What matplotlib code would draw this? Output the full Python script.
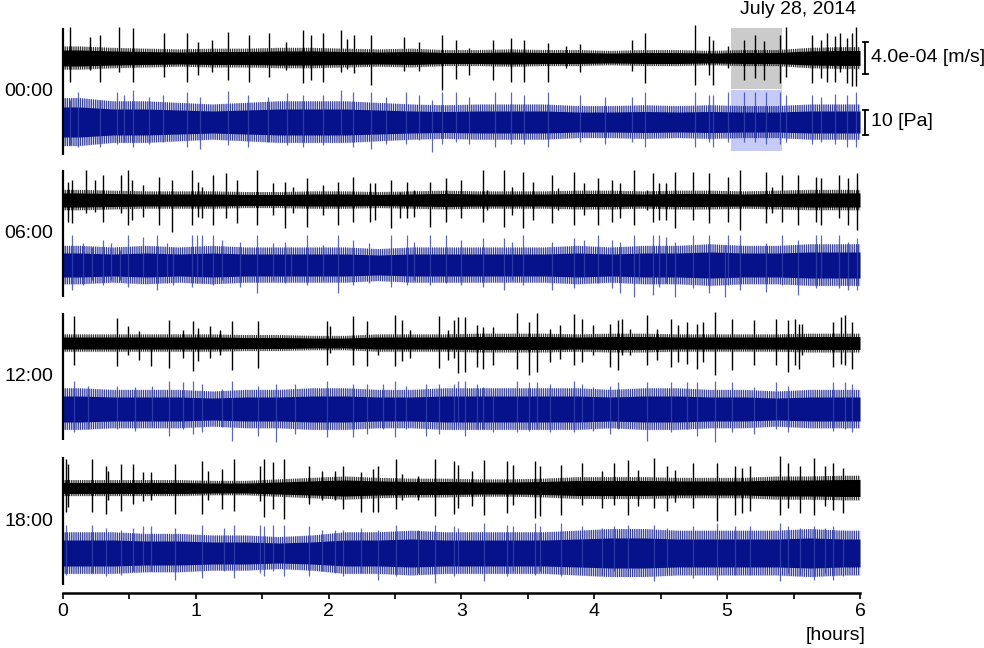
import numpy as np
import matplotlib
matplotlib.use("Agg")
import matplotlib.pyplot as plt
from matplotlib.patches import Rectangle

plt.rcParams['font.family'] = ['Liberation Sans', 'DejaVu Sans']
plt.rcParams['hatch.linewidth'] = 0.55

# ---------------- data ----------------
block_labels = ["00:00", "06:00", "12:00", "18:00"]
date_label = "July 28, 2014"
xticks = [0, 1, 2, 3, 4, 5, 6]
seis_scale = 4.0        # x1e-4 m/s
seis_label = "4.0e-04 [m/s]"
infra_scale = 10.0      # Pa
infra_label = "10 [Pa]"
highlight = (5.03, 5.41)   # hours, block 1

# background level (half width) every 15 min; seismic in 1e-4 m/s, infrasound in Pa
seis_env = [
    [1.0,0.88,0.81,0.75,0.81,0.81,0.88,0.88,0.81,0.75,0.81,0.69,0.69,0.75,0.69,0.69,0.62,0.69,0.69,0.62,0.69,0.69,0.88,0.94],
    [0.88,0.81,0.75,0.75,0.75,0.69,0.69,0.75,0.75,0.69,0.75,0.81,0.75,0.75,0.75,0.81,0.81,0.75,0.81,0.81,0.75,0.81,0.88,0.88],
    [0.75,0.75,0.75,0.75,0.75,0.69,0.69,0.62,0.62,0.75,0.75,0.75,0.81,0.81,0.81,0.75,0.81,0.81,0.75,0.75,0.75,0.75,0.81,0.81],
    [0.69,0.69,0.69,0.69,0.62,0.62,0.75,0.88,1.0,0.88,0.81,0.81,0.75,0.75,0.81,0.94,0.94,0.94,0.88,0.88,0.88,1.0,1.0,1.06],
]
infra_env = [
    [6.0,5.2,5.2,4.8,4.4,4.8,5.2,5.2,5.2,4.8,4.4,4.2,4.4,4.4,4.4,4.0,4.0,4.2,4.0,4.2,4.0,4.0,4.4,4.4],
    [4.8,4.4,4.8,4.4,4.8,4.4,4.4,4.4,4.4,4.0,4.4,4.4,4.4,4.4,4.4,4.8,4.4,4.8,4.8,5.2,4.8,4.8,5.2,5.2],
    [5.2,4.8,4.8,4.8,4.4,4.8,4.8,5.2,5.2,4.8,4.8,5.2,5.2,5.2,5.2,5.2,4.8,5.2,5.2,4.8,4.8,4.4,4.8,4.8],
    [5.2,5.2,4.8,4.8,4.4,4.4,4.0,4.4,5.2,5.2,5.6,5.2,5.2,5.2,5.2,5.6,6.0,6.0,5.6,5.6,5.6,5.6,6.0,5.6],
]

# transient events: time (hours), peak up, peak down
seis_t = [
    [0.05,0.20,0.28,0.42,0.53,0.76,0.93,1.02,1.12,1.24,1.40,1.55,1.68,1.81,1.87,1.96,2.09,2.14,2.19,2.32,2.57,2.68,2.85,2.96,3.06,3.24,3.37,3.47,3.65,3.79,3.89,4.28,4.38,4.76,4.86,4.89,5.01,5.13,5.21,5.28,5.40,5.44,5.64,5.71,5.75,5.81,5.85,5.90,5.94,5.97],
    [0.04,0.07,0.17,0.24,0.30,0.44,0.49,0.52,0.60,0.72,0.82,0.97,1.02,1.05,1.13,1.23,1.31,1.46,1.58,1.67,1.73,1.84,1.96,2.07,2.18,2.31,2.35,2.47,2.54,2.59,2.64,2.76,2.88,3.00,3.16,3.19,3.32,3.38,3.46,3.54,3.68,3.73,3.85,3.92,4.03,4.13,4.19,4.30,4.40,4.44,4.49,4.54,4.61,4.74,4.86,5.01,5.10,5.29,5.34,5.41,5.53,5.67,5.71,5.84,5.91,5.98],
    [0.08,0.41,0.49,0.57,0.66,0.80,0.90,0.98,1.02,1.11,1.18,1.27,1.47,1.99,2.01,2.18,2.29,2.37,2.50,2.55,2.61,2.83,2.90,2.94,2.97,3.03,3.12,3.16,3.24,3.42,3.51,3.57,3.67,3.74,3.85,3.91,3.99,4.12,4.18,4.21,4.27,4.40,4.47,4.58,4.63,4.70,4.77,4.82,4.91,5.04,5.20,5.37,5.46,5.51,5.54,5.56,5.80,5.86,5.89,5.94],
    [0.02,0.04,0.22,0.32,0.34,0.44,0.53,0.60,0.66,0.84,1.05,1.09,1.20,1.29,1.48,1.51,1.58,1.66,1.85,1.95,2.05,2.11,2.24,2.33,2.37,2.51,2.55,2.67,2.80,2.94,2.97,3.08,3.17,3.34,3.39,3.55,3.59,3.75,3.91,4.06,4.15,4.25,4.33,4.45,4.55,4.61,4.74,4.92,5.06,5.11,5.17,5.40,5.46,5.55,5.65,5.74,5.80,5.87],
]
seis_up = [
    [3.9,2.6,2.9,3.9,3.8,3.1,3.1,2.0,2.3,3.3,2.9,3.1,2.0,3.5,2.9,3.1,3.5,2.4,2.9,2.9,2.6,2.0,2.9,2.3,1.3,2.3,2.5,2.3,1.9,1.5,1.8,2.3,3.1,4.1,2.8,2.3,1.5,2.3,2.9,2.1,2.9,3.9,2.9,2.3,3.1,2.8,3.1,2.5,3.1,3.9],
    [2.3,2.5,3.8,2.5,3.1,3.1,3.8,2.5,1.9,2.9,2.5,3.8,2.3,1.6,3.1,3.4,2.5,3.8,2.1,2.3,1.6,2.8,1.9,2.3,2.9,2.1,2.1,2.5,1.0,2.3,1.3,2.3,2.8,2.5,3.8,1.3,3.8,1.6,3.5,2.3,3.1,1.5,3.5,2.1,2.8,2.5,2.1,3.8,1.3,3.4,2.1,2.1,3.5,3.5,3.4,2.9,3.8,3.5,1.6,3.1,3.1,2.9,2.8,3.1,2.8,3.4],
    [3.4,3.1,2.1,1.5,0.6,2.9,1.6,2.8,1.9,2.1,1.6,2.8,2.8,2.8,2.1,3.4,2.8,0.6,3.5,2.9,1.6,3.4,1.6,2.9,3.3,3.3,2.3,2.0,2.0,3.8,2.6,3.8,1.8,2.3,3.6,3.0,2.3,2.4,2.9,3.0,1.8,3.5,1.8,3.0,2.3,2.6,2.4,2.6,3.9,3.0,2.9,3.0,2.9,3.0,2.4,2.4,2.6,3.3,3.5,2.6],
    [3.6,3.0,3.6,2.8,2.1,3.0,3.0,2.0,2.0,3.0,3.4,2.1,2.4,3.6,2.8,3.6,3.3,3.6,2.8,2.1,2.1,2.8,2.0,2.4,2.8,3.6,1.8,1.5,3.6,3.4,2.9,2.1,3.5,3.4,2.9,3.4,2.8,2.9,3.1,2.1,3.1,3.5,2.3,3.8,2.8,2.3,3.1,3.1,2.8,2.5,2.8,4.0,3.1,2.8,3.8,2.8,3.1,2.5],
]
seis_dn = [
    [3.0,1.5,3.0,1.8,3.0,2.4,3.0,2.1,1.8,2.8,3.0,2.4,1.5,3.1,2.8,3.0,1.8,1.4,1.9,3.4,1.6,1.6,4.0,2.6,2.1,2.8,3.0,3.0,3.0,1.3,1.8,1.6,3.1,3.4,2.1,3.4,1.3,2.8,2.5,2.8,3.1,2.4,3.1,2.5,3.0,3.0,1.8,3.1,3.5,3.5],
    [2.8,2.9,1.6,1.5,2.8,1.6,3.1,2.5,2.1,3.1,4.0,3.1,2.1,2.3,3.1,2.3,2.9,3.1,1.9,3.5,1.6,3.4,1.9,3.1,2.8,2.8,2.5,3.5,2.3,2.3,2.1,3.4,2.8,2.3,2.8,1.3,3.4,1.9,3.5,2.5,2.9,1.3,3.1,1.9,3.1,2.8,2.3,3.1,1.3,2.8,2.5,2.5,3.5,2.5,2.9,2.8,3.8,2.9,1.6,2.8,3.1,2.8,3.1,2.3,3.1,3.8],
    [2.8,2.9,1.5,2.1,2.9,3.1,1.9,3.5,2.3,1.9,1.5,3.4,3.1,2.8,1.3,2.8,2.9,1.5,2.9,2.3,1.9,3.1,2.1,1.9,3.8,3.6,3.0,3.3,2.8,3.3,4.0,3.6,2.4,2.0,2.8,2.4,1.5,3.0,3.4,1.5,1.5,2.8,2.1,3.0,2.4,2.6,3.3,2.4,4.0,3.4,2.8,2.8,3.6,2.8,3.3,1.5,3.0,2.6,2.8,3.3],
    [3.0,2.4,3.0,3.3,1.5,2.9,2.0,1.6,1.5,3.3,3.3,1.5,2.6,2.9,1.6,3.6,2.6,3.9,2.0,1.5,1.5,2.6,3.0,3.0,3.0,2.6,1.5,1.5,3.5,3.3,2.5,2.3,3.4,3.1,2.1,3.8,3.5,3.4,2.1,2.5,2.1,3.4,2.3,2.5,2.9,1.8,2.5,4.1,3.4,3.1,2.9,3.4,2.5,3.1,3.4,2.3,2.8,3.1],
]
infra_t = [
    [0.05,0.11,0.28,0.41,0.46,0.53,0.65,0.75,0.93,1.03,1.24,1.39,1.54,1.69,1.81,1.96,2.09,2.18,2.32,2.43,2.58,2.68,2.78,2.85,2.96,3.06,3.25,3.37,3.47,3.65,3.89,4.08,4.28,4.38,4.76,4.86,4.89,5.01,5.13,5.21,5.29,5.40,5.44,5.64,5.71,5.81,5.90,5.97],
    [0.07,0.15,0.22,0.30,0.36,0.43,0.49,0.60,0.71,0.78,0.83,0.97,1.01,1.05,1.13,1.20,1.33,1.46,1.58,1.67,1.72,1.84,1.96,2.07,2.18,2.30,2.47,2.59,2.64,2.76,2.88,3.00,3.16,3.32,3.38,3.46,3.68,3.85,3.92,4.03,4.13,4.19,4.30,4.34,4.44,4.49,4.54,4.61,4.74,4.86,4.98,5.01,5.10,5.29,5.41,5.53,5.67,5.71,5.84,5.91,5.98],
    [0.08,0.19,0.41,0.54,0.67,0.80,0.90,0.98,1.05,1.20,1.27,1.47,1.60,1.75,1.99,2.18,2.29,2.41,2.50,2.58,2.73,2.83,2.94,2.97,3.03,3.12,3.16,3.24,3.42,3.51,3.57,3.67,3.85,3.91,3.99,4.12,4.18,4.40,4.58,4.70,4.77,4.91,5.04,5.20,5.37,5.46,5.80,5.89,5.94],
    [0.02,0.22,0.32,0.44,0.53,0.60,0.66,0.84,1.05,1.21,1.29,1.48,1.51,1.58,1.66,1.85,1.95,2.05,2.11,2.24,2.37,2.51,2.67,2.80,2.94,2.97,3.17,3.34,3.39,3.55,3.59,3.75,3.91,4.06,4.15,4.25,4.45,4.55,4.74,4.92,5.06,5.17,5.40,5.46,5.55,5.65,5.74,5.80,5.87],
]
infra_up = [
    [8.8,12,8.8,12,10.8,12.8,10,10.8,12,10,12.4,10.8,10,11.6,10.8,10.8,12.8,12,12,10,12,10.8,8.8,12,12,10,12,12,10.8,12,10.8,10,10,12,12,10.8,10.8,12,12,12,12,12,10.8,10.8,10,11.2,10.8,12],
    [12,8.8,7.2,10,8.8,6,12,11.2,12,8.8,6.8,12,12,12,12,10,9.2,12,8.8,9.2,7.2,12,8,12,10,8.8,12,12,9.2,12,12,10,10.8,10.8,9.2,12,9.2,10.8,10,12,10,9.2,12,6.8,12,12,11.2,9.2,12,12,8,12,12,8.8,12,10,12,12,12,9.2,10.8],
    [11.2,9.2,9.2,8.8,9.2,11.2,10.8,11.2,10,8,11.2,9.2,10,10,11.2,10,10,10,11.2,9.2,10,10,10,11.2,11.2,10,8.8,7.2,11.2,10.8,10.8,10,11.2,10,8.8,9.2,10.8,10.8,10.8,10.8,10.8,11.2,10.8,8.8,10.8,9.2,10.8,10.8,10],
    [11.2,11.2,10,9.2,10,10.8,10.8,10,11.2,10,11.2,11.2,10.8,11.2,11.2,10.8,9.2,9.2,9.2,10,9.2,11.2,9.2,11.2,10.8,10,12,11.2,10.8,12,10.8,12,10.8,10,10.8,11.2,11.2,10,10.8,12,10.8,10.8,12,10.8,10,10.8,10,10.8,9.2],
]
infra_dn = [
    [9.2,10,10,8.8,8,10,8.8,8,10,10.8,9.2,10,8,9.2,10,9.2,8,10,10.8,8.8,8.8,7.2,12,8.8,8,8.8,10,8.8,8.8,10,8,8.8,8,10,10,8,10,8,8,8,8.8,8.8,8,8.8,8,8.8,10,10],
    [10,8,6,8,6,6,8.8,6,10,7.2,8,8.8,7.2,7.2,8,6,8.8,11.2,6,7.2,6,8,6,11.2,8,7.2,8.8,8,6,8,7.2,8,8.8,10,6,8,10,9.2,6,7.2,9.2,11.2,12.8,6,12,8.8,7.2,12.8,9.2,11.2,12.8,8,10,10.8,8,12,9.2,8,9.2,10,10],
    [9.2,8,8,8.8,7.2,10.8,8,10,9.2,7.2,12.8,10.8,13.2,10,11.2,11.2,10,8,11.2,8,10.8,10,8,6.8,10.8,8,8,9.2,9.2,8.8,8,9.2,9.2,7.2,8.8,10,8,12.8,9.2,8,10.8,13.2,9.2,10,8,9.2,8.8,8,9.2],
    [8.8,8,9.2,8.8,7.2,6,7.2,10.8,10,7.2,10,8,9.2,7.2,9.2,9.2,7.2,8,9.2,8,10.8,9.2,8,12,9.2,7.2,11.2,9.2,7.2,8.8,7.2,9.2,7.2,8.8,7.2,9.2,11.2,8,10,10.8,8.8,8.8,11.2,8,8.8,10.8,8,10.8,9.2],
]

# ---------------- layout / style ----------------
W, H = 984, 648
BLACK = "#000000"
NAVY = "#06128a"
SPIKE_BLUE = "#3343b0"
SEIS_GAIN = 8.0     # px per 1e-4 m/s
INFRA_GAIN = 2.5    # px per Pa
seis_off = [535, 393, 250, 105]
infra_off = [471, 328, 184, 40]
block_span = [(438, 565), (296, 423), (153, 280), (8, 136)]

fig = plt.figure(figsize=(W / 100, H / 100), dpi=100)
ax = fig.add_axes([63 / W, (H - 593) / H, (860 - 63) / W, (593 - 20) / H])
ax.set_xlim(0, 6)
ax.set_ylim(0, 573)
for s in ["left", "right", "top"]:
    ax.spines[s].set_visible(False)
ax.spines["bottom"].set_linewidth(1.8)
ax.set_yticks([])
ax.set_xticks(xticks)
ax.set_xticks(np.arange(0.5, 6, 1.0), minor=True)
ax.tick_params(axis="x", which="both", direction="out", length=4.5, width=1.2, labelsize=14, pad=3)

def env_series(env):
    env = np.asarray(env, float)
    t = (np.arange(len(env)) + 0.5) * (6.0 / len(env))
    return np.r_[0.0, t, 6.0], np.r_[env[0], env, env[-1]]

def draw_trace(off, env, gain, color, spk_t, spk_up, spk_dn, spk_color, spk_lw, spk_alpha,
               k_hatch, k_soft, hatch, soft_alpha):
    t, e = env_series(env)
    ax.fill_between(t, off - e * gain * k_soft, off + e * gain * k_soft, color=color, lw=0,
                    alpha=soft_alpha, zorder=2)
    ax.fill_between(t, off - e * gain * k_hatch, off + e * gain * k_hatch, facecolor="none",
                    edgecolor=color, hatch=hatch, lw=0, zorder=2.5)
    ax.fill_between(t, off - e * gain, off + e * gain, color=color, lw=0, zorder=3)
    n = min(len(spk_t), len(spk_up), len(spk_dn))
    ax.vlines(np.asarray(spk_t[:n]), off - np.asarray(spk_dn[:n]) * gain,
              off + np.asarray(spk_up[:n]) * gain, color=spk_color, lw=spk_lw,
              alpha=spk_alpha, zorder=4)

# highlight boxes (block 1)
ax.add_patch(Rectangle((highlight[0], 504), highlight[1] - highlight[0], 61,
                       facecolor="#cbcbcb", edgecolor="none", zorder=1))
ax.add_patch(Rectangle((highlight[0], 442), highlight[1] - highlight[0], 61,
                       facecolor="#c6cbf6", edgecolor="none", zorder=1))

for b in range(4):
    draw_trace(seis_off[b], seis_env[b], SEIS_GAIN, BLACK, seis_t[b], seis_up[b], seis_dn[b],
               BLACK, 1.0, 1.0, 1.45, 1.45, "|||||||||", 0.12)
    draw_trace(infra_off[b], infra_env[b], INFRA_GAIN, NAVY, infra_t[b], infra_up[b], infra_dn[b],
               SPIKE_BLUE, 0.9, 0.8, 1.6, 1.6, "|||||||||", 0.15)
    y0, y1 = block_span[b]
    ax.plot([0, 0], [y0, y1], color="black", lw=1.6, solid_capstyle="butt", zorder=5, clip_on=False)
    ax.text(-0.075, (y0 + y1) / 2, block_labels[b], ha="right", va="center", fontsize=14)

# scale bars
def scale_bar(yc, length, label):
    xb = 6.04
    y0, y1 = yc - length / 2, yc + length / 2
    ax.plot([xb, xb], [y0, y1], color="black", lw=1.3, clip_on=False, zorder=5)
    for yy in (y0, y1):
        ax.plot([xb - 0.02, xb + 0.02], [yy, yy], color="black", lw=1.3, clip_on=False, zorder=5)
    ax.text(6.08, yc, label, ha="left", va="center", fontsize=14)

scale_bar(seis_off[0], seis_scale * SEIS_GAIN, seis_label)
scale_bar(infra_off[0], infra_scale * INFRA_GAIN, infra_label)

ax.text(5.53, 583, date_label, ha="center", va="center", fontsize=14)
ax.text(6.045, -43, "[hours]", ha="right", va="center", fontsize=14)

fig.savefig("out.png", dpi=100)
